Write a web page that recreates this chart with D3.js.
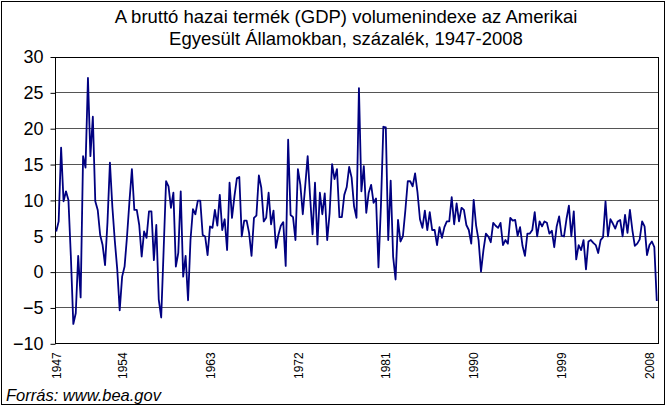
<!DOCTYPE html>
<html>
<head>
<meta charset="utf-8">
<script src="https://cdn.jsdelivr.net/npm/d3@7/dist/d3.min.js"></script>
<style>
	body { margin: 0; background: #fff; }
	svg { display: block; font-family: Arial, "Liberation Sans", sans-serif; }
</style>
</head>
<body>
<svg width="666" height="407"></svg>
<script>
// quarterly change in percent, first value is 1947 Q2
var firstYear = 1947, firstQuarter = 2;

var growth1940s = [5.6, 7.0, 17.3, 9.8, 11.2, 10.0, 2.1, -7.3, -5.8, 2.2, -3.6];
var growth1950s = [16.1, 14.5, 27.0, 16.1, 21.6, 9.8, 8.6, 5.1, 3.7, 0.9, 6.9, 15.2, 9.0, 4.3, 0.3, -5.4,
	-0.7, 0.7, 4.9, 9.8, 14.3, 8.6, 8.6, 6.5, 2.1, 5.6, 4.7, 8.4, 8.4, 1.6, 6.5, -3.9,
	-6.4, 3.0, 12.6, 11.9, 8.9, 11.0, 0.7, 2.6];
var growth1960s = [11.2, -0.7, 2.2, -4.0, 4.4, 8.7, 8.0, 9.9, 9.9, 5.1, 4.9, 2.3, 6.3, 6.1, 8.6, 6.4,
	10.7, 5.8, 7.3, 3.0, 12.4, 7.5, 10.5, 13.0, 13.2, 4.9, 7.1, 7.1, 5.4, 2.2, 7.5, 7.8,
	13.4, 11.7, 7.0, 7.5, 11.0, 6.6, 8.5, 3.3];
var growth1970s = [5.1, 6.4, 6.9, 0.8, 18.4, 7.9, 7.6, 4.4, 14.3, 12.1, 8.0, 12.0, 16.1, 10.4, 5.2, 12.4,
	3.8, 11.0, 8.0, 10.9, 4.4, 8.2, 15.0, 12.9, 14.3, 7.6, 7.6, 10.7, 11.8, 14.6, 13.1, 9.1,
	7.5, 25.6, 11.2, 14.7, 8.2, 11.0, 12.1, 9.6];
var growth1980s = [10.2, 0.6, 9.1, 20.2, 20.1, 4.4, 12.7, 2.1, -1.1, 7.2, 4.2, 4.9, 8.5, 12.6, 12.6, 11.9,
	13.7, 11.0, 7.3, 6.1, 8.5, 5.8, 8.3, 5.8, 5.8, 3.7, 6.2, 4.7, 6.2, 7.0, 7.0, 10.4,
	6.6, 9.5, 7.0, 8.9, 8.6, 6.5, 5.8, 3.9];
var growth1990s = [10.0, 6.4, 4.4, 0.0, 3.0, 5.3, 4.9, 4.1, 6.8, 6.4, 6.1, 6.8, 3.7, 4.4, 3.9, 7.5,
	7.1, 7.2, 5.0, 6.2, 3.6, 2.2, 5.3, 5.3, 5.8, 8.3, 4.9, 7.0, 6.3, 7.0, 6.8, 5.3,
	5.7, 3.4, 6.3, 7.7, 5.0, 4.9, 7.3, 9.2];
var growth2000s = [4.9, 8.4, 1.7, 3.7, 3.0, 4.4, 0.3, 4.2, 4.4, 4.0, 3.7, 2.6, 4.4, 4.8, 9.8, 4.9,
	7.3, 6.7, 6.0, 7.0, 7.2, 4.9, 7.9, 5.4, 8.6, 5.8, 3.6, 3.9, 4.5, 7.0, 6.3, 2.3,
	3.7, 4.2, 3.4, -4.1];

var tickYears = [1947, 1954, 1963, 1972, 1981, 1990, 1999, 2008];
var yTicks = [30, 25, 20, 15, 10, 5, 0, -5, -10];

var titleLines = ["A bruttó hazai termék (GDP) volumenindexe az Amerikai",
	"Egyesült Államokban, százalék, 1947-2008"];
var sourceText = "Forrás: www.bea.gov";

var values = [].concat(growth1940s, growth1950s, growth1960s, growth1970s,
	growth1980s, growth1990s, growth2000s);

// one category per quarter
var categories = values.map(function(v, i) {
	var q = firstQuarter - 1 + i;
	return { year: firstYear + Math.floor(q / 4), quarter: q % 4 + 1, value: v };
});

var svg = d3.select("svg");

var plot = { left: 55, right: 658, top: 56.5, bottom: 343.3 };

var x = d3.scalePoint()
	.domain(d3.range(categories.length))
	.range([plot.left, plot.right])
	.padding(0.5);

var y = d3.scaleLinear()
	.domain([-10, 30])
	.range([plot.bottom, plot.top]);

//outer frame
svg.append("rect")
	.attr("x", 1.5).attr("y", 1.5)
	.attr("width", 663).attr("height", 403)
	.attr("fill", "#fff")
	.attr("stroke", "#000")
	.attr("stroke-width", 1);

//gridlines
svg.append("g")
	.selectAll("line")
	.data(yTicks)
	.enter().append("line")
	.attr("x1", plot.left)
	.attr("x2", plot.right)
	.attr("y1", function(d) { return Math.round(y(d)) + 0.5; })
	.attr("y2", function(d) { return Math.round(y(d)) + 0.5; })
	.attr("stroke", "#555")
	.attr("stroke-width", 1);

//plot border
svg.append("rect")
	.attr("x", plot.left + 0.5)
	.attr("y", Math.round(plot.top) + 0.5)
	.attr("width", plot.right - plot.left)
	.attr("height", Math.round(plot.bottom) - Math.round(plot.top))
	.attr("fill", "none")
	.attr("stroke", "#000")
	.attr("stroke-width", 1);

//y axis
var yAxis = d3.axisLeft(y)
	.tickValues(yTicks)
	.tickSize(5)
	.tickPadding(7)
	.tickFormat(d3.format("d"));

var yAxisG = svg.append("g")
	.attr("transform", "translate(" + (plot.left + 0.5) + ",0.5)")
	.call(yAxis);

yAxisG.select(".domain").remove();
yAxisG.selectAll("line").attr("stroke", "#000");
yAxisG.selectAll("text")
	.attr("font-family", "Arial, 'Liberation Sans', sans-serif")
	.attr("font-size", 18)
	.attr("fill", "#000");

//x axis labels
var tickIndex = tickYears.map(function(yr) {
	return categories.findIndex(function(c) { return c.year === yr; });
});

var xAxis = d3.axisBottom(x)
	.tickValues(tickIndex)
	.tickSize(0)
	.tickPadding(0)
	.tickFormat(function(d) { return String(categories[d].year); });

var xAxisG = svg.append("g")
	.attr("transform", "translate(0," + plot.bottom + ")")
	.call(xAxis);

xAxisG.select(".domain").remove();
xAxisG.selectAll("text")
	.attr("font-family", "Arial, 'Liberation Sans', sans-serif")
	.attr("font-size", 12)
	.attr("fill", "#000")
	.attr("text-anchor", "end")
	.attr("transform", "rotate(-90)")
	.attr("x", -9)
	.attr("y", 0)
	.attr("dy", "0.35em");

//the series
var line = d3.line()
	.x(function(d, i) { return x(i); })
	.y(function(d) { return y(d.value); });

svg.append("path")
	.datum(categories)
	.attr("d", line)
	.attr("fill", "none")
	.attr("stroke", "#000080")
	.attr("stroke-width", 1.8)
	.attr("stroke-linejoin", "round");

//title
svg.append("g")
	.selectAll("text")
	.data(titleLines)
	.enter().append("text")
	.attr("x", 346)
	.attr("y", function(d, i) { return 23 + i * 22; })
	.attr("text-anchor", "middle")
	.attr("font-size", 18.5)
	.attr("fill", "#000")
	.text(function(d) { return d; });

svg.append("text")
	.attr("x", 6)
	.attr("y", 401)
	.attr("font-size", 16.5)
	.attr("font-style", "italic")
	.attr("fill", "#000")
	.text(sourceText);
</script>
</body>
</html>
